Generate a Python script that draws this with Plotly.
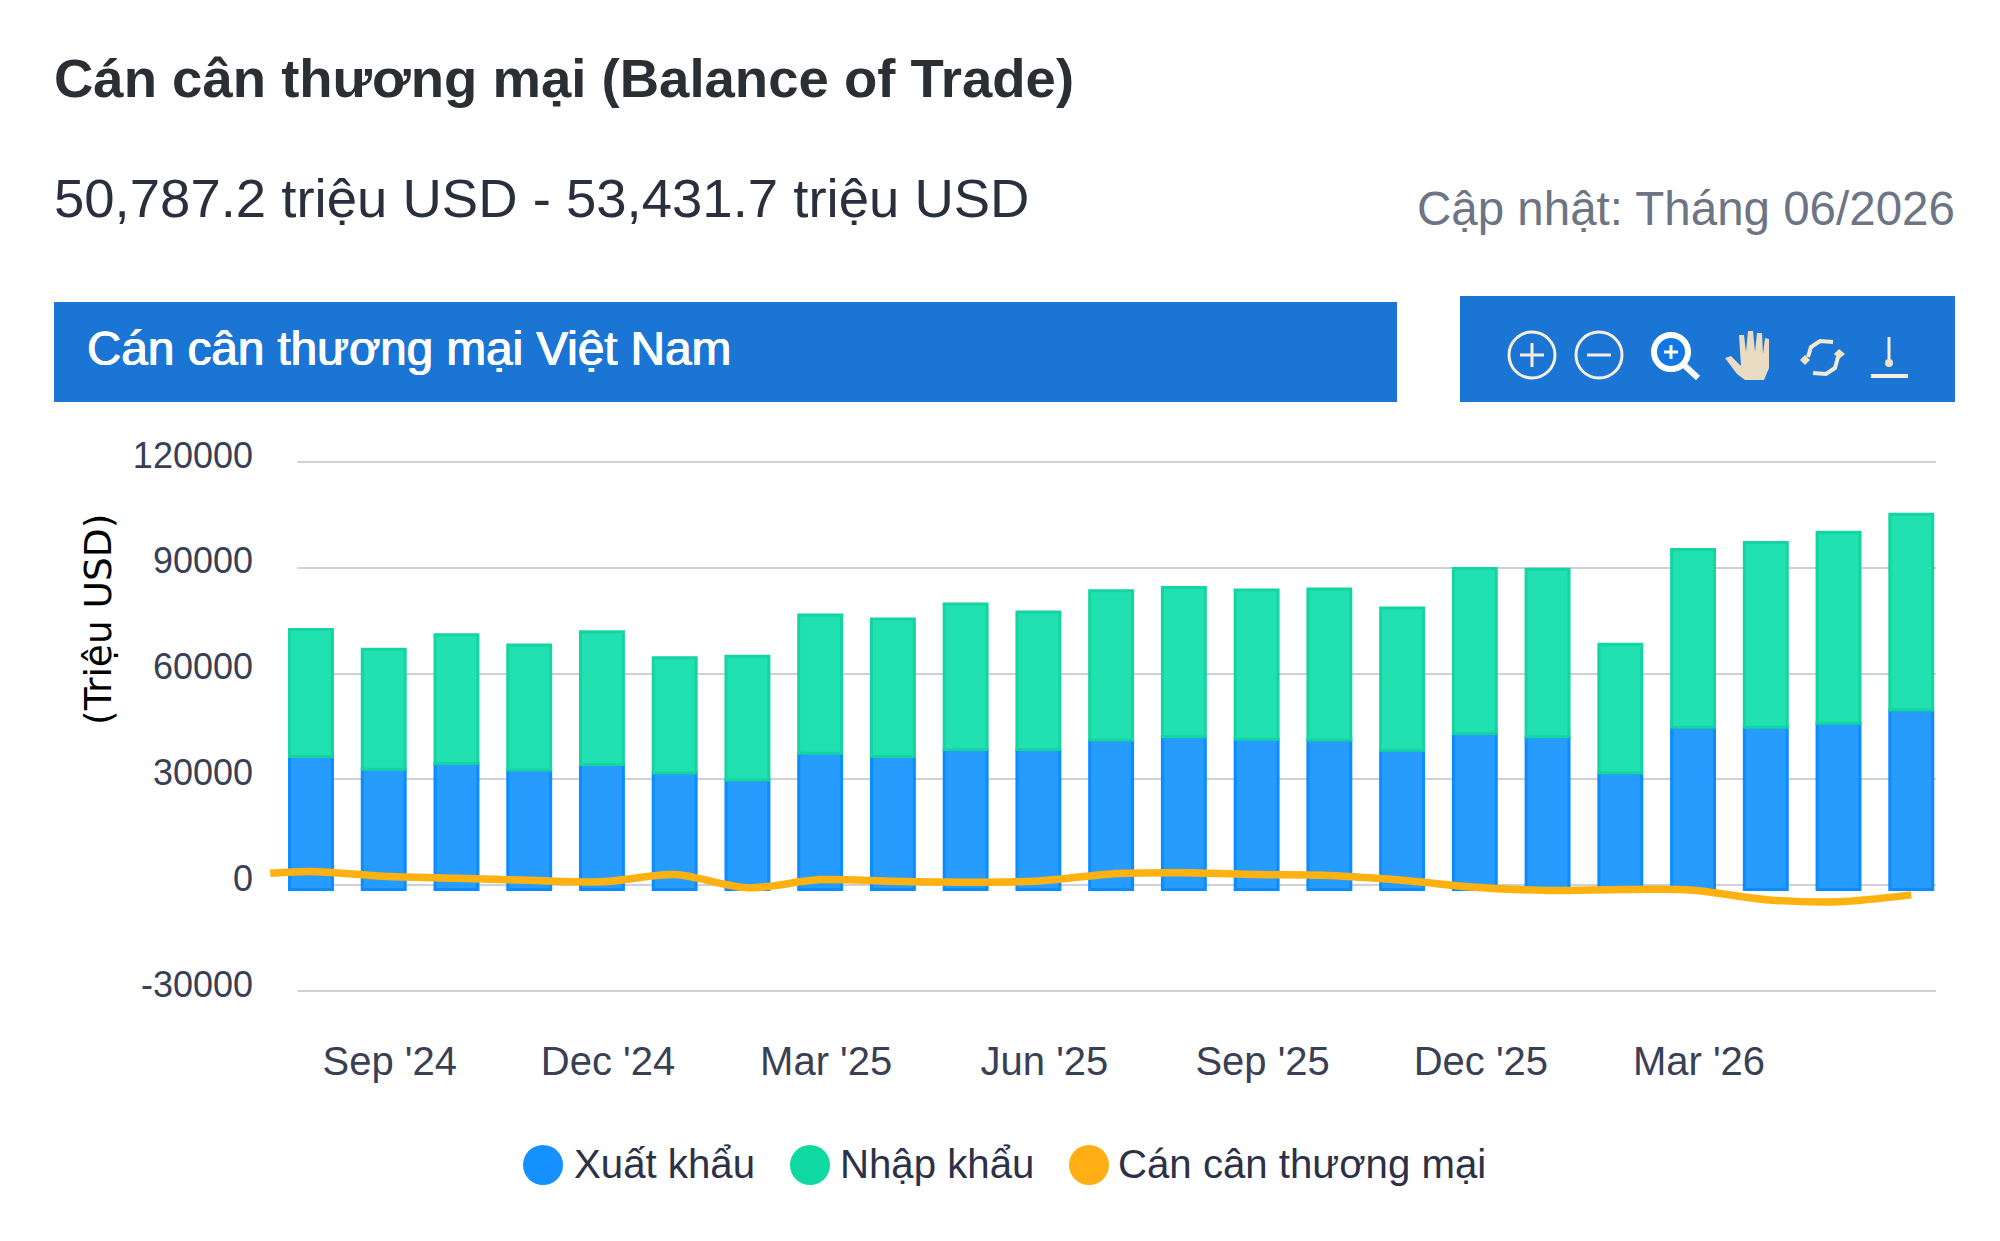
import plotly.graph_objects as go

W, H = 2000, 1241

months = ["Aug '24","Sep '24","Oct '24","Nov '24","Dec '24","Jan '25","Feb '25","Mar '25","Apr '25","May '25","Jun '25","Jul '25",
          "Aug '25","Sep '25","Oct '25","Nov '25","Dec '25","Jan '26","Feb '26","Mar '26","Apr '26","May '26","Jun '26"]
exports = [36500,32900,34500,32700,34250,31800,29800,37400,36500,38500,38500,41200,
           42100,41400,41200,38300,43000,42100,31800,44800,44800,45900,49700]
totals = [72500,66900,71000,68100,71900,64500,64900,76600,75500,79700,77500,83500,
          84400,83700,84000,78600,89800,89600,68300,95200,97200,100100,105200]
imports = [t - e for t, e in zip(totals, exports)]
balance = [3900,2550,1980,1400,950,3000,-750,1600,1100,850,1200,3200,
           3500,3000,2750,1400,-570,-1500,-1230,-1400,-4100,-4700,-2750]
balance_lead_x = -0.56
balance_lead = 3400
bar_floor = -1200

y_ticks = [-30000,0,30000,60000,90000,120000]
y_labels = ["-30000","0","30000","60000","90000","120000"]
x_tick_months = ["Sep '24","Dec '24","Mar '25","Jun '25","Sep '25","Dec '25","Mar '26"]

xs = list(range(len(months)))
FONT = "Liberation Sans"
INK = "#2c3147"
X_RANGE = [-0.591, 22.34]
Y_RANGE = [-30850, 120850]

fig = go.Figure()
fig.add_bar(name="Xuất khẩu", x=xs, y=[e - bar_floor for e in exports], base=bar_floor,
            marker=dict(color="#279cff", line=dict(color="#0c8cff", width=3)), showlegend=False)
fig.add_bar(name="Nhập khẩu", x=xs, y=imports, base=exports,
            marker=dict(color="#22e1b1", line=dict(color="#14d4a2", width=3)), showlegend=False)
fig.add_scatter(name="Cán cân thương mại", x=[balance_lead_x] + xs, y=[balance_lead] + balance, mode="lines",
                line=dict(color="#ffb110", width=7.5, shape="spline", smoothing=0.8),
                cliponaxis=False, showlegend=False)

def px(x): return x / W
def py(y): return 1 - y / H

shapes, annos = [], []

def rect(x0, y0, x1, y1, color, layer="below"):
    shapes.append(dict(type="rect", xref="paper", yref="paper", x0=px(x0), x1=px(x1), y0=py(y0), y1=py(y1),
                       fillcolor=color, line=dict(width=0), layer=layer))

def circle(cx, cy, r, fill=None, stroke=None, sw=0):
    shapes.append(dict(type="circle", xref="paper", yref="paper", x0=px(cx - r), x1=px(cx + r), y0=py(cy + r), y1=py(cy - r),
                       fillcolor=fill or "rgba(0,0,0,0)", line=dict(color=stroke or "rgba(0,0,0,0)", width=sw)))

def seg(x0, y0, x1, y1, color="#f6efdf", w=3):
    shapes.append(dict(type="line", xref="paper", yref="paper", x0=px(x0), x1=px(x1), y0=py(y0), y1=py(y1),
                       line=dict(color=color, width=w)))

def path(points, color="#f0e4cc", close=True, stroke=None, sw=0):
    d = "M " + " L ".join(f"{px(a):.5f},{py(b):.5f}" for a, b in points) + (" Z" if close else "")
    shapes.append(dict(type="path", xref="paper", yref="paper", path=d,
                       fillcolor=color if close else "rgba(0,0,0,0)",
                       line=dict(color=stroke or "rgba(0,0,0,0)", width=sw)))

def text(x, y, s, size, color=INK, anchor="left", family=FONT, bold=False, angle=0, shadow=None):
    f = dict(family=family, size=size, color=color)
    if shadow:
        f["shadow"] = shadow
    annos.append(dict(xref="paper", yref="paper", x=px(x), y=py(y), text=f"<b>{s}</b>" if bold else s, showarrow=False,
                      xanchor=anchor, yanchor="middle", textangle=angle, align=anchor if anchor != "center" else "center",
                      font=f))

text(52, 78, "Cán cân thương mại (Balance of Trade)", 54.5, "#2b2e33", bold=True)
text(52, 199, "50,787.2 triệu USD - 53,431.7 triệu USD", 54.5, "#2a2f3d")
text(1957, 208, "Cập nhật: Tháng 06/2026", 47.5, "#6d7483", anchor="right")

rect(54, 302, 1397, 402, "#1b75d4")
rect(1460, 296, 1955, 402, "#1b75d4")
text(85, 348, "Cán cân thương mại Việt Nam", 47.6, "#ffffff", shadow="0.6px 0 0 #ffffff, -0.6px 0 0 #ffffff")

# mask on the axes, between grid and traces: gridlines start at the reference's left end, bars and line stay visible
shapes.append(dict(type="rect", xref="x", yref="y", x0=X_RANGE[0], x1=-0.186, y0=Y_RANGE[0], y1=Y_RANGE[1],
                   fillcolor="#ffffff", line=dict(width=0), layer="between"))

# toolbar icons
circle(1532, 355, 23, stroke="#f6efdf", sw=3)
seg(1520, 355, 1544, 355); seg(1532, 343, 1532, 367)
circle(1599, 355, 23, stroke="#f6efdf", sw=3)
seg(1587, 355, 1611, 355)
circle(1671, 352, 17, fill="#0f78e6", stroke="#ffffff", sw=6)
seg(1664, 352, 1678, 352, "#ffffff", 3); seg(1671, 345, 1671, 359, "#ffffff", 3)
seg(1684, 365, 1698, 378, "#ffffff", 6)
path([(1725,358),(1731,356),(1741,366),(1739,335),(1744,335),(1746,352),(1748,331),(1753,331),(1755,352),(1757,333),(1762,333),
      (1763,354),(1765,338),(1769,339),(1769,368),(1764,380),(1745,380),(1737,374)], "#e9dcc2")
path([(1808,357),(1811,347),(1820,341),(1833,342)], close=False, stroke="#f3ead6", sw=4)
path([(1838,357),(1835,368),(1826,374),(1813,373)], close=False, stroke="#f3ead6", sw=4)
path([(1800,360),(1805,355),(1810,360),(1805,365)], "#f0e4c4")
path([(1834,354),(1839,349),(1845,354),(1839,359)], "#f0e4c4")
seg(1889, 337, 1889, 362, "#f6efdf", 3)
circle(1889, 363, 4, fill="#f0e4c4")
seg(1871, 376, 1908, 376, "#f6efdf", 4)

text(98, 620, "(Triệu USD)", 37.5, "#000000", anchor="center", family="DejaVu Sans", angle=-90)

# legend
for cx, color, tx, name in [(543, "#1491ff", 574, "Xuất khẩu"), (810, "#0fd8a2", 840, "Nhập khẩu"), (1089, "#ffae14", 1118, "Cán cân thương mại")]:
    circle(cx, 1165, 20, fill=color)
    text(tx - 2, 1164, name, 40.2, INK)

fig.update_layout(
    width=W, height=H, autosize=False, margin=dict(l=0, r=0, t=0, b=0, pad=0),
    paper_bgcolor="#ffffff", plot_bgcolor="rgba(0,0,0,0)", barmode="overlay", bargap=0.41,
    showlegend=False, shapes=shapes, annotations=annos, font=dict(family=FONT, color=INK),
    xaxis=dict(domain=[268 / W, 1936 / W], range=X_RANGE, tickmode="array",
               tickvals=[months.index(m) for m in x_tick_months], ticktext=x_tick_months,
               showgrid=False, zeroline=False, showline=False, ticks="", ticklabelshift=6, ticklabelstandoff=40,
               tickfont=dict(size=40, color="#3a4054", family=FONT), automargin=False),
    yaxis=dict(domain=[1 - 994 / H, 1 - 459 / H], range=Y_RANGE, tickmode="array",
               tickvals=y_ticks, ticktext=y_labels, showgrid=True, gridcolor="#cdd0d8", gridwidth=2,
               zeroline=True, zerolinecolor="#cdd0d8", zerolinewidth=2, showline=False, ticks="",
               ticklabelshift=-7, ticklabelstandoff=14,
               tickfont=dict(size=36, color="#3a4054", family=FONT), automargin=False),
)
fig.write_html("out.html", config=dict(displayModeBar=False),
               post_script="document.body.style.margin='0';document.documentElement.style.overflow='hidden';")
